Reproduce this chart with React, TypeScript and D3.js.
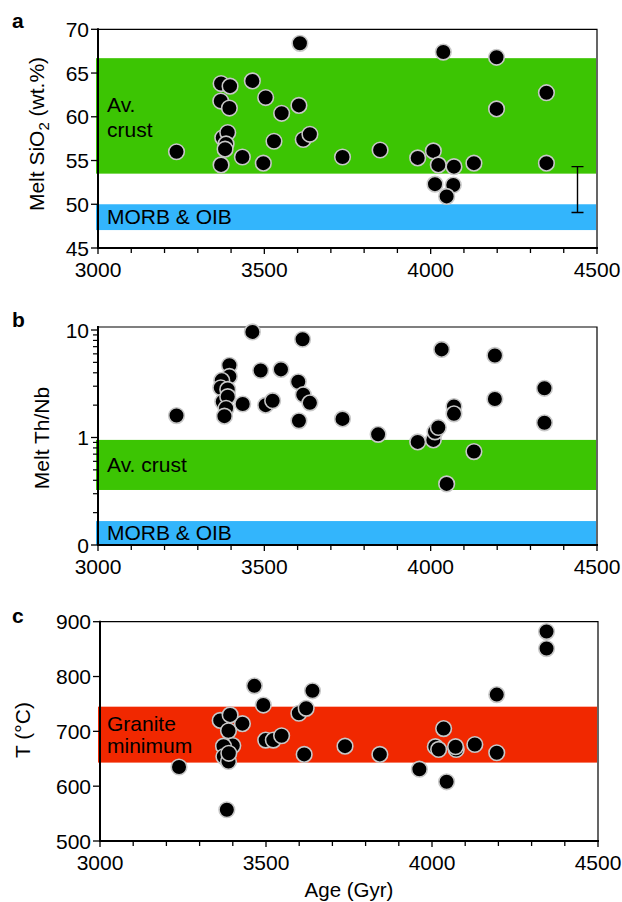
import React, { useEffect, useRef } from "react";
import * as d3 from "d3";

// panel a: melt SiO2 vs age
const ageA = [3236, 3607, 3370, 3397, 3464, 3369, 3395, 3504, 3552, 3604, 3375, 3390, 3385, 3382, 3370, 3434, 3497, 3529, 3617, 3637, 3735, 3848, 3961, 4008, 4023, 4070, 4130, 4348, 4013, 4068, 4048, 4038, 4198, 4348, 4198];
const sio2 = [56.0, 68.4, 63.8, 63.5, 64.1, 61.8, 61.0, 62.2, 60.4, 61.3, 57.6, 58.2, 56.9, 56.3, 54.5, 55.4, 54.7, 57.2, 57.4, 58.0, 55.4, 56.2, 55.3, 56.1, 54.5, 54.3, 54.7, 54.7, 52.3, 52.2, 50.9, 67.4, 66.8, 62.75, 60.9];

// panel b: melt Th/Nb vs age
const ageB = [3236, 3464, 3615, 3395, 3395, 3372, 3369, 3390, 3375, 3390, 3385, 3380, 3435, 3489, 3504, 3525, 3550, 3602, 3617, 3637, 3604, 3735, 3842, 3961, 4008, 4013, 4023, 4033, 4070, 4070, 4130, 4048, 4193, 4193, 4342, 4342];
const thnb = [1.6, 9.6, 8.2, 4.7, 3.7, 3.4, 2.9, 2.8, 2.15, 2.4, 1.87, 1.58, 2.05, 4.2, 2.0, 2.2, 4.3, 3.3, 2.5, 2.1, 1.43, 1.49, 1.07, 0.91, 0.95, 1.13, 1.24, 6.6, 1.94, 1.66, 0.74, 0.37, 5.8, 2.28, 2.87, 1.37];

// panel c: temperature vs age
const ageC = [3238, 3382, 3465, 3492, 3429, 3362, 3392, 3387, 3400, 3372, 3373, 3387, 3388, 3499, 3522, 3547, 3599, 3621, 3640, 3615, 3738, 3843, 3962, 4010, 4020, 4035, 4073, 4071, 4129, 4044, 4195, 4195, 4345, 4345];
const temp = [635, 557, 783, 748, 714, 720, 730, 701, 674, 673, 654, 645, 660, 684, 684, 692, 733, 742, 774, 658, 673, 658, 631, 672, 667, 705, 667, 672, 676, 608, 767, 661, 882, 851];

const xTicks = [3000, 3500, 4000, 4500];
const yTicksA = [45, 50, 55, 60, 65, 70];
const yTicksC = [500, 600, 700, 800, 900];

const crustSiO2 = [53.5, 66.7];
const morbSiO2 = [47.05, 50];
const errSiO2 = [49.05, 54.3];
const crustThNb = [0.325, 0.95];
const morbThNb = [0.1, 0.167];
const graniteT = [643, 745];

const GREEN = "#3cc503";
const BLUE = "#33b5fc";
const RED = "#f12800";
const FONT = "'Liberation Sans', Arial, Helvetica, sans-serif";
const FS = 21;

const App = () => {
  const svgRef = useRef();

  useEffect(() => {
    const svg = d3.select(svgRef.current);
    svg.selectAll("*").remove();
    svg.attr("font-family", FONT);

    const drawPanel = (opts) => {
      const { x, y, top, bottom, left, right, ages, vals, minorY } = opts;
      const g = svg.append("g");

      // bands
      opts.bands.forEach((b) => {
        g.append("rect")
          .attr("x", left - 2)
          .attr("y", y(b.range[1]))
          .attr("width", right - left + 1)
          .attr("height", y(b.range[0]) - y(b.range[1]))
          .attr("fill", b.color);
      });

      // frame (top/right)
      g.append("path")
        .attr("d", `M${left},${top}H${right}V${bottom}`)
        .attr("fill", "none")
        .attr("stroke", "#000")
        .attr("stroke-width", 1.2);

      // x axis with minor ticks
      const xAxis = g.append("g").attr("transform", `translate(0,${bottom})`);
      xAxis
        .selectAll("line.minor")
        .data(d3.range(3000, 4501, 100))
        .join("line")
        .attr("x1", (d) => x(d))
        .attr("x2", (d) => x(d))
        .attr("y1", 0)
        .attr("y2", (d) => (d % 500 === 0 ? 6 : 5))
        .attr("stroke", "#000")
        .attr("stroke-width", 1.3);
      xAxis
        .selectAll("text")
        .data(xTicks)
        .join("text")
        .attr("x", (d) => x(d))
        .attr("y", 29)
        .attr("text-anchor", "middle")
        .attr("font-size", FS)
        .text((d) => d);
      xAxis
        .append("line")
        .attr("x1", left - 1)
        .attr("x2", right + 1)
        .attr("stroke", "#000")
        .attr("stroke-width", 2);

      // y axis
      const yAxis = g.append("g").attr("transform", `translate(${left},0)`);
      if (minorY) {
        yAxis
          .selectAll("line.minor")
          .data(minorY)
          .join("line")
          .attr("x1", -5)
          .attr("x2", 0)
          .attr("y1", (d) => y(d))
          .attr("y2", (d) => y(d))
          .attr("stroke", "#000")
          .attr("stroke-width", 1.2);
      }
      yAxis
        .selectAll("line.major")
        .data(opts.yTicks)
        .join("line")
        .attr("x1", -7)
        .attr("x2", 0)
        .attr("y1", (d) => y(d))
        .attr("y2", (d) => y(d))
        .attr("stroke", "#000")
        .attr("stroke-width", 1.3);
      yAxis
        .selectAll("text")
        .data(opts.yTicks)
        .join("text")
        .attr("x", -9)
        .attr("y", (d) => y(d) + 7.5)
        .attr("text-anchor", "end")
        .attr("font-size", FS)
        .text((d, i) => opts.yLabels[i]);
      yAxis
        .append("line")
        .attr("y1", top - 1)
        .attr("y2", bottom)
        .attr("stroke", "#000")
        .attr("stroke-width", 2);

      // points
      g.append("g")
        .selectAll("circle")
        .data(ages.map((a, i) => [a, vals[i]]))
        .join("circle")
        .attr("cx", (d) => x(d[0]))
        .attr("cy", (d) => y(d[1]))
        .attr("r", 7.8)
        .attr("fill", "#000")
        .attr("stroke", "#c8c8c8")
        .attr("stroke-width", 1.6);

      return g;
    };

    // ---- panel a
    const xa = d3.scaleLinear().domain([3000, 4500]).range([98, 597]);
    const ya = d3.scaleLinear().domain([45, 70]).range([248, 29.3]);
    const ga = drawPanel({
      x: xa, y: ya, top: 29.3, bottom: 248, left: 98, right: 597,
      ages: ageA, vals: sio2, yTicks: yTicksA, yLabels: yTicksA,
      bands: [
        { range: crustSiO2, color: GREEN },
        { range: morbSiO2, color: BLUE },
      ],
    });
    // error bar
    const ex = 577.5;
    ga.append("path")
      .attr("d", `M${ex},${ya(errSiO2[1])}V${ya(errSiO2[0])}M${ex - 6},${ya(errSiO2[1])}h12M${ex - 6},${ya(errSiO2[0])}h12`)
      .attr("stroke", "#000")
      .attr("stroke-width", 1.4)
      .attr("fill", "none");
    ga.append("text").attr("x", 107).attr("y", 112).attr("font-size", FS).text("Av.");
    ga.append("text").attr("x", 107).attr("y", 137).attr("font-size", FS).text("crust");
    ga.append("text").attr("x", 107).attr("y", 224).attr("font-size", FS).text("MORB & OIB");
    const ta = ga.append("text")
      .attr("transform", "translate(44,134) rotate(-90)")
      .attr("text-anchor", "middle")
      .attr("font-size", 21);
    ta.append("tspan").text("Melt SiO");
    ta.append("tspan").attr("font-size", 15).attr("dy", 5).text("2");
    ta.append("tspan").attr("dy", -5).text(" (wt.%)");

    // ---- panel b
    const xb = d3.scaleLinear().domain([3000, 4500]).range([98, 597]);
    const yb = d3.scaleLog().domain([0.1, 10]).range([545, 330]);
    const minorB = [];
    [0.1, 1].forEach((base) => {
      for (let k = 2; k <= 9; k++) minorB.push(base * k);
    });
    const gb = drawPanel({
      x: xb, y: yb, top: 327, bottom: 545, left: 98, right: 597,
      ages: ageB, vals: thnb, yTicks: [0.1, 1, 10], yLabels: ["0", "1", "10"],
      minorY: minorB,
      bands: [
        { range: crustThNb, color: GREEN },
        { range: morbThNb, color: BLUE },
      ],
    });
    gb.append("text").attr("x", 107).attr("y", 472).attr("font-size", FS).text("Av. crust");
    gb.append("text").attr("x", 107).attr("y", 540).attr("font-size", FS).text("MORB & OIB");
    gb.append("text")
      .attr("transform", "translate(49,438) rotate(-90)")
      .attr("text-anchor", "middle")
      .attr("font-size", 21)
      .text("Melt Th/Nb");

    // ---- panel c
    const xc = d3.scaleLinear().domain([3000, 4500]).range([100, 598]);
    const yc = d3.scaleLinear().domain([500, 900]).range([841, 621.7]);
    const gc = drawPanel({
      x: xc, y: yc, top: 621.7, bottom: 841, left: 100, right: 598,
      ages: ageC, vals: temp, yTicks: yTicksC, yLabels: yTicksC,
      bands: [{ range: graniteT, color: RED }],
    });
    gc.append("text").attr("x", 107).attr("y", 731).attr("font-size", FS).text("Granite");
    gc.append("text").attr("x", 107).attr("y", 753).attr("font-size", FS).text("minimum");
    gc.append("text")
      .attr("transform", "translate(30,730) rotate(-90)")
      .attr("text-anchor", "middle")
      .attr("font-size", 21)
      .text("T (°C)");
    gc.append("text")
      .attr("x", 349)
      .attr("y", 897)
      .attr("text-anchor", "middle")
      .attr("font-size", 20.5)
      .text("Age (Gyr)");

    // panel letters
    [["a", 28], ["b", 327], ["c", 623]].forEach(([l, yy]) => {
      svg.append("text")
        .attr("x", 12)
        .attr("y", yy)
        .attr("font-size", 21)
        .attr("font-weight", "bold")
        .text(l);
    });
  }, []);

  return (
    <svg
      ref={svgRef}
      width={622}
      height={902}
      style={{ position: "absolute", left: 0, top: 0, background: "#fff" }}
    ></svg>
  );
};

export default App;
